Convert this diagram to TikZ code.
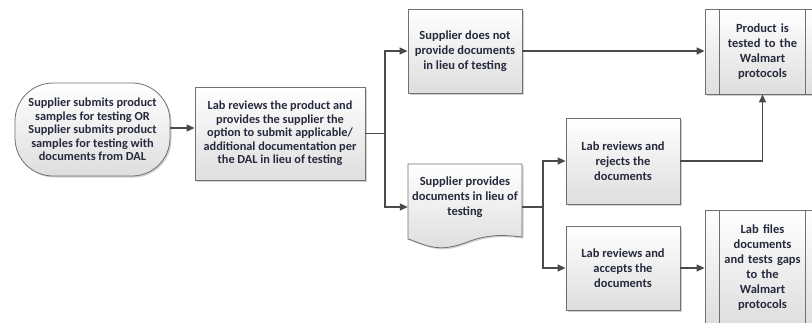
\documentclass[tikz,border=0pt]{standalone}
\usepackage{fontspec}
\setmainfont{Carlito}
\usetikzlibrary{arrows.meta,shadows,calc}
\definecolor{txt}{HTML}{262A3C}
\definecolor{edgec}{HTML}{707070}
\definecolor{conn}{HTML}{4A4A4A}
\begin{document}
\begin{tikzpicture}[x=1pt,y=-1pt,
  softshadow/.style={drop shadow={shadow xshift=1.5pt,shadow yshift=-1.5pt,fill=black,opacity=0.18}},
  boxfill/.style={draw=edgec,line width=0.8pt,top color=white,bottom color=black!13},
  lbl/.style={align=center,font=\bfseries\fontsize{12.5}{15}\selectfont,text=txt,inner sep=0pt},
  tightlbl/.style={font=\bfseries\fontsize{12.3}{13.6}\selectfont},
  procbox/.style={boxfill,softshadow,lbl},
  conn/.style={draw=conn,line width=1.3pt,-{Triangle[length=8pt,width=7pt]}},
  plainconn/.style={draw=conn,line width=1.3pt}]
\useasboundingbox (0,0) rectangle (812,322);
\clip (0,0) rectangle (812,322);
\fill[white] (0,0) rectangle (812,322);

% start terminal
\node[procbox,tightlbl,rounded corners=38pt,minimum width=155pt,minimum height=93pt] (start) at (92.5,129.5)
  {Supplier submits product\\samples for testing OR\\Supplier submits product\\samples for testing with\\documents from DAL};

\node[procbox,tightlbl,minimum width=170pt,minimum height=93pt] (lab) at (280,133.5)
  {Lab reviews the product and\\provides the supplier the\\option to submit applicable/\\additional documentation per\\the DAL in lieu of testing};

\node[procbox,minimum width=114pt,minimum height=84pt] (notprov) at (465,51)
  {Supplier does not\\provide documents\\in lieu of testing};

% document shape
\path[boxfill,softshadow] (408,164) -- (522,164) -- (522,237)
  .. controls (505,235) and (490,234) .. (470,241)
  .. controls (452,248) and (440,250) .. (425,245)
  .. controls (418,243) and (412,240) .. (408,239) -- cycle;
\node[lbl,minimum width=114pt] (doc) at (465,197)
  {Supplier provides\\documents in lieu of\\testing};

\node[procbox,minimum width=114pt,minimum height=86pt] (rej) at (623,161)
  {Lab reviews and\\rejects the\\documents};
\node[procbox,minimum width=114pt,minimum height=84pt] (acc) at (623,268)
  {Lab reviews and\\accepts the\\documents};

\node[procbox,minimum width=115pt,minimum height=85pt,text width=84pt] (prod) at (762.5,51.5)
  {Product is\\tested to the\\Walmart\\protocols};
\draw[edgec,line width=0.8pt] ($(prod.north west)+(15,0)$) -- ($(prod.south west)+(15,0)$)
  ($(prod.north east)+(-15,0)$) -- ($(prod.south east)+(-15,0)$);

\node[procbox,minimum width=115pt,minimum height=115pt,text width=84pt] (files) at (762.5,267.5)
  {Lab files\\documents\\and tests gaps\\to the\\Walmart\\protocols};
\draw[edgec,line width=0.8pt] ($(files.north west)+(15,0)$) -- ($(files.south west)+(15,0)$)
  ($(files.north east)+(-15,0)$) -- ($(files.south east)+(-15,0)$);

% connectors
\coordinate (trunk) at (385,133.5);
\coordinate (docin) at ($(doc.west)+(0,10)$);
\coordinate (docout) at ($(doc.east)+(0,10)$);
\coordinate (split) at (543,207);

\draw[conn] (start.east |- 0,128) -- (lab.west |- 0,128);
\draw[plainconn] (lab.east) -- (trunk);
\draw[conn] (trunk) |- (notprov.west);
\draw[conn] (trunk) |- (docin);
\draw[conn] (notprov.east) -- (prod.west |- notprov.east);
\draw[plainconn] (docout) -- (split);
\draw[conn] (split) |- (rej.west);
\draw[conn] (split) |- (acc.west);
\draw[conn] (rej.east) -| (prod.south);
\draw[conn] (acc.east) -- (files.west |- acc.east);
\end{tikzpicture}
\end{document}
